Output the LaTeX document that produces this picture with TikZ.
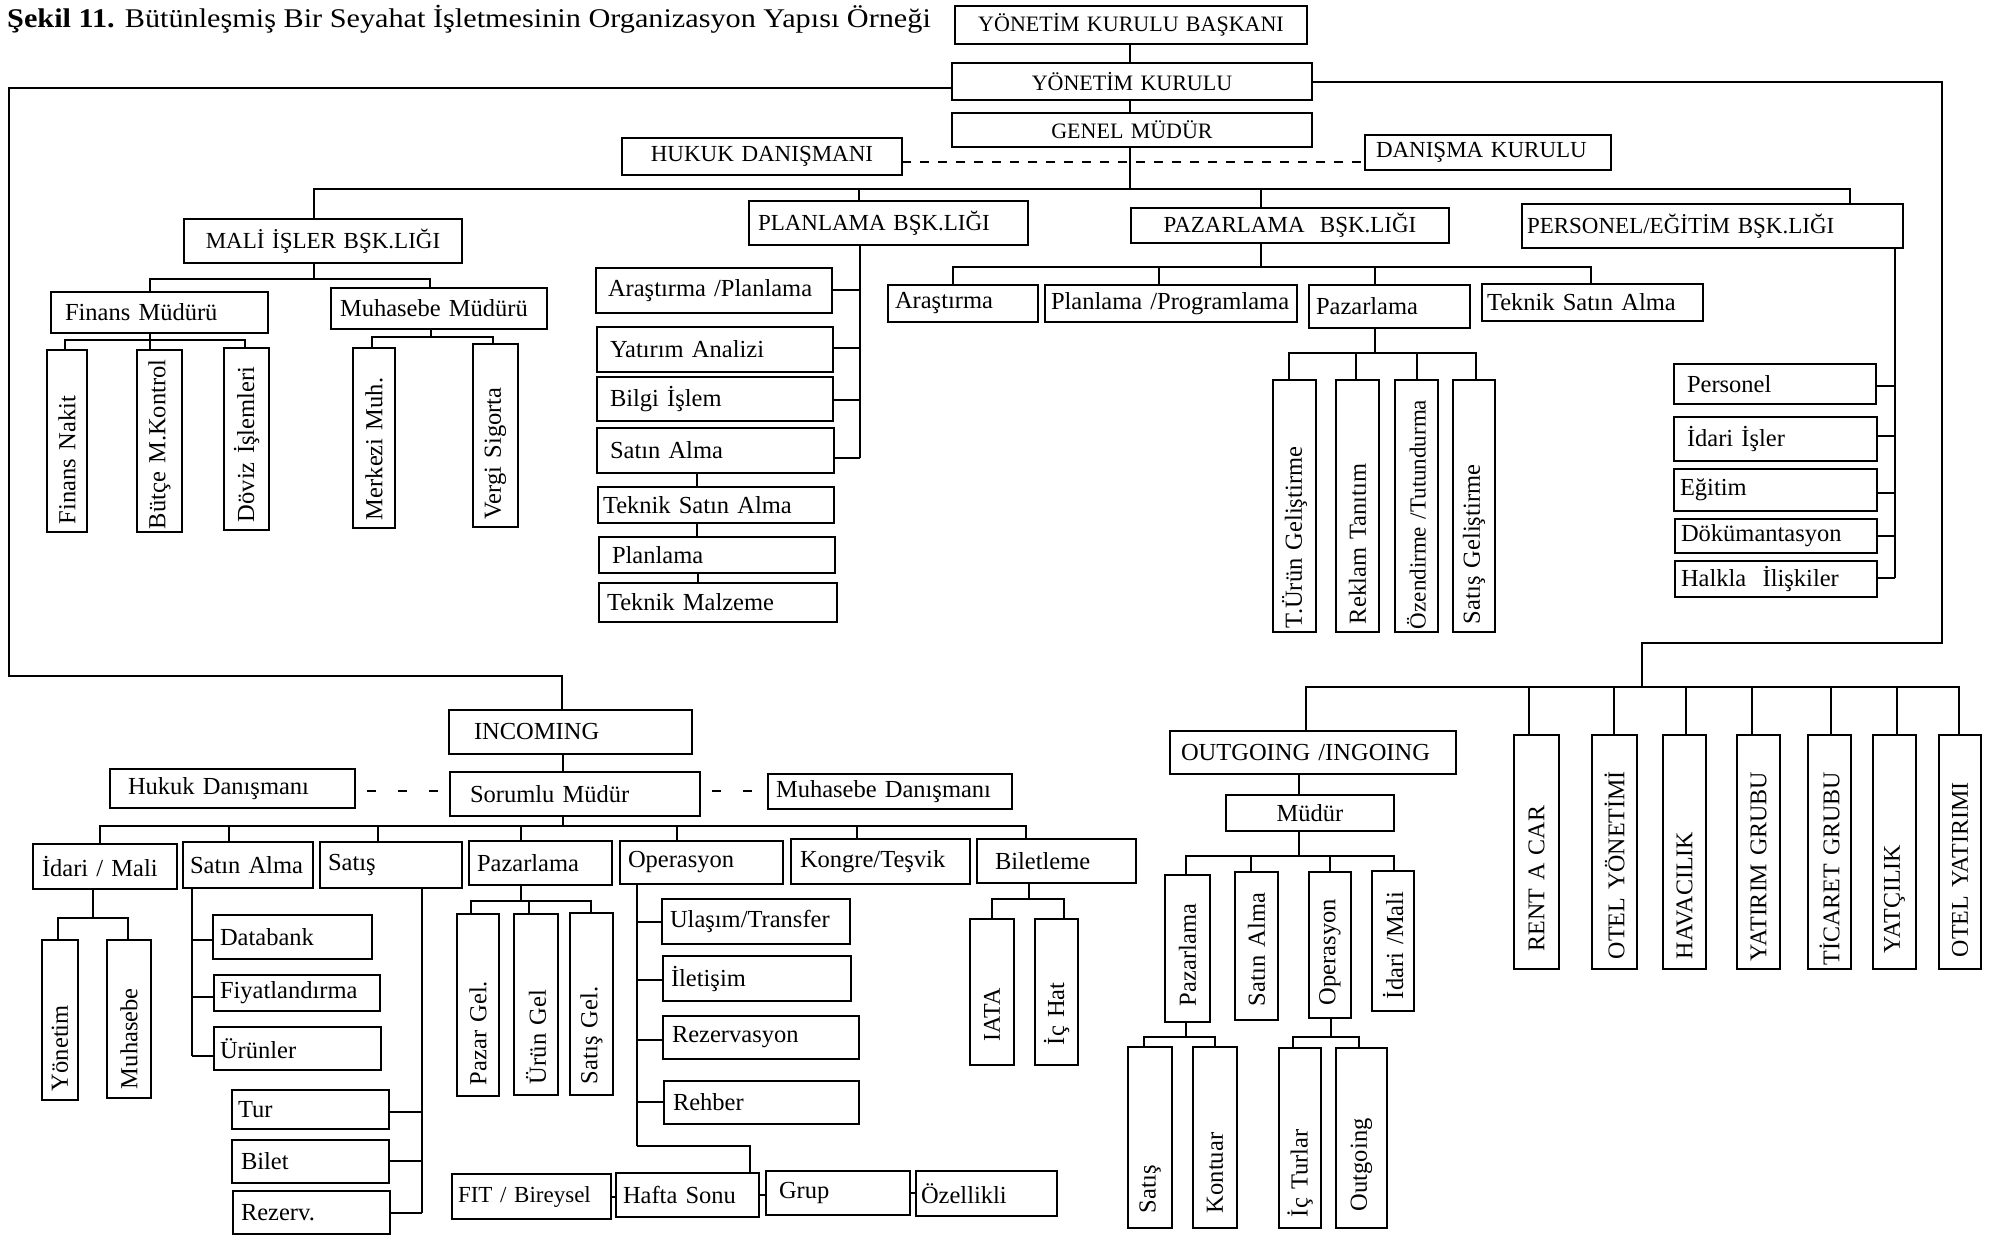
\documentclass[tikz,border=0pt]{standalone}
\usepackage{fontspec}
\setmainfont{Liberation Serif}
\usepackage{graphicx}

\tikzset{
  box/.style={draw, line width=2.2pt, inner ysep=0pt, outer sep=0pt,
              font=\fontsize{24.5}{28}\selectfont, align=left},
  capfont/.style={font=\fontsize{23}{26}\selectfont},
  vcapfont/.style={font=\fontsize{24}{27}\selectfont},
  smallfont/.style={font=\fontsize{22}{25}\selectfont},
  link/.style={line width=2pt},
  dashlink/.style={line width=2pt, dash pattern=on 9pt off 9pt},
  sparse/.style={line width=2pt, dash pattern=on 9pt off 22pt, dash phase=-12pt},
}

% horizontal box: [padding]{style}{name}{x1}{y1}{x2}{y2}{text}
\newcommand\obox[8][8]{%
  \pgfmathsetmacro\bw{#6-#4}\pgfmathsetmacro\bh{#7-#5}\pgfmathsetmacro\tw{#6-#4-2*#1}%
  \node[box,#2,anchor=north west,minimum width=\bw pt,minimum height=\bh pt,
        text width=\tw pt,inner xsep=#1pt] (#3) at (#4,#5) {\mbox{#8}};}
% upright box with text running bottom to top
\newcommand\vbx[8][8]{%
  \pgfmathsetmacro\bw{#6-#4}\pgfmathsetmacro\bh{#7-#5}\pgfmathsetmacro\tw{#7-#5-2*#1}%
  \pgfmathsetmacro\cx{(#4+#6)/2}\pgfmathsetmacro\cy{(#5+#7)/2}%
  \node[box,#2,rotate=90,minimum width=\bh pt,minimum height=\bw pt,
        text width=\tw pt,inner xsep=#1pt] (#3) at (\cx,\cy) {\mbox{#8}};}
% parent drop at x=#2 down to a bus at y=#3, then one drop per child
\newcommand\tconn[4]{%
  \draw[link] (#1 -| #2,0) -- (#2,#3);
  \foreach \a/\xx in {#4} {\draw[link] (#2,#3) -| (\a -| \xx,0);}}
% trunk at x=#2 down to y=#3 with horizontal stubs to the children
\newcommand\side[4]{%
  \draw[link] (#1 -| #2,0) -- (#2,#3);
  \foreach \a/\yy in {#4} {\draw[link] (#2,\yy) -- (\a |- 0,\yy);}}

\begin{document}
\begin{tikzpicture}[x=1pt,y=-1pt]
\fill[white] (0,0) rectangle (2003,1239);
\useasboundingbox (0,0) rectangle (2003,1239);

% heading
\node[anchor=base west, inner sep=0pt, font=\fontsize{27}{30}\selectfont] (title) at (7,28)
  {\scalebox{1.12}[1]{\textbf{Şekil 11.} Bütünleşmiş Bir Seyahat İşletmesinin Organizasyon Yapısı Örneği}};

% top management
\obox{smallfont,align=center}{YKB}{955}{6}{1307}{44}{YÖNETİM KURULU BAŞKANI}
\obox{smallfont,align=center}{YK}{952}{63}{1312}{100}{YÖNETİM KURULU}
\obox{smallfont,align=center}{GM}{952}{113}{1312}{147}{GENEL MÜDÜR}
\obox{capfont,align=center}{HD}{622}{138}{902}{175}{HUKUK DANIŞMANI}
\obox[11]{capfont}{DK}{1365}{135}{1611}{170}{DANIŞMA KURULU}
\draw[link] (YKB.south -| 1130,0) -- (YK.north -| 1130,0);
\draw[link] (YK.south -| 1130,0) -- (GM.north -| 1130,0);
\draw[dashlink] (HD.east |- 0,162) -- (DK.west |- 0,162);

% departments
\obox{capfont,align=center}{MIB}{184}{219}{462}{263}{MALİ İŞLER BŞK.LIĞI}
\obox[9]{capfont}{PLB}{749}{201}{1028}{245}{PLANLAMA BŞK.LIĞI}
\obox{capfont,align=center}{PZB}{1131}{208}{1449}{243}{PAZARLAMA\ \ BŞK.LIĞI}
\obox[5]{capfont}{PEB}{1522}{204}{1903}{248}{PERSONEL/EĞİTİM BŞK.LIĞI}
\tconn{GM.south}{1130}{189}{MIB.north/314, PLB.north/859, PZB.north/1261, PEB.north/1850}

% finance
\obox[14]{}{FinM}{51}{292}{268}{333}{Finans Müdürü}
\obox[9]{}{MuhM}{331}{288}{547}{329}{Muhasebe Müdürü}
\tconn{MIB.south}{314}{279}{FinM.north/150, MuhM.north/430}
\vbx{}{FNk}{47}{350}{87}{532}{Finans Nakit}
\vbx[3]{}{BMK}{137}{350}{182}{532}{Bütçe M.Kontrol}
\vbx{}{DIs}{224}{348}{269}{530}{Döviz İşlemleri}
\vbx{}{MMu}{353}{348}{395}{528}{Merkezi Muh.}
\vbx{}{VSg}{473}{344}{518}{527}{Vergi Sigorta}
\tconn{FinM.south}{150}{340}{FNk.east/65, BMK.east/150, DIs.east/245}
\tconn{MuhM.south}{431}{337}{MMu.east/372, VSg.east/493}

% planning
\obox[12]{}{AP}{596}{268}{832}{313}{Araştırma /Planlama}
\obox[13]{}{YA}{597}{327}{833}{372}{Yatırım Analizi}
\obox[13]{}{BI}{597}{377}{833}{421}{Bilgi İşlem}
\obox[13]{}{SA}{597}{428}{834}{473}{Satın Alma}
\obox[5]{}{TSA}{598}{487}{834}{523}{Teknik Satın Alma}
\obox[13]{}{PL}{599}{537}{835}{573}{Planlama}
\obox[8]{}{TM}{599}{583}{837}{622}{Teknik Malzeme}
\side{PLB.south}{860}{458}{AP.east/290, YA.east/348, BI.east/400, SA.east/458}
\draw[link] (SA.south -| 697,0) -- (TSA.north -| 697,0);
\draw[link] (TSA.south -| 697,0) -- (PL.north -| 697,0);
\draw[link] (PL.south -| 698,0) -- (TM.north -| 698,0);

% marketing
\obox[7]{}{PzA}{888}{285}{1038}{322}{Araştırma}
\obox[6]{}{PzP}{1045}{285}{1297}{322}{Planlama /Programlama}
\obox[7]{}{PzZ}{1309}{285}{1470}{328}{Pazarlama}
\obox[5]{}{PzT}{1482}{284}{1703}{321}{Teknik Satın Alma}
\tconn{PZB.south}{1261}{267}{PzA.north/953, PzP.north/1159, PzZ.north/1375, PzT.north/1591}
\vbx[4]{}{TUG}{1273}{380}{1316}{632}{T.Ürün Geliştirme}
\vbx{}{RTn}{1336}{380}{1379}{632}{Reklam Tanıtım}
\vbx[3]{capfont}{OTu}{1395}{380}{1438}{632}{Özendirme /Tutundurma}
\vbx{}{SGe}{1453}{380}{1495}{632}{Satış Geliştirme}
\tconn{PzZ.south}{1375}{353}{TUG.east/1289, RTn.east/1356, OTu.east/1417, SGe.east/1476}

% personnel
\obox[13]{}{Per}{1674}{364}{1876}{404}{Personel}
\obox[13]{}{Idr}{1674}{417}{1877}{461}{İdari İşler}
\obox[6]{}{Egt}{1674}{469}{1877}{511}{Eğitim}
\obox[6]{}{Dok}{1675}{519}{1877}{553}{Dökümantasyon}
\obox[6]{}{Hal}{1675}{561}{1877}{597}{Halkla\ \ İlişkiler}
\side{PEB.south}{1895}{578}{Per.east/386, Idr.east/436, Egt.east/493, Dok.east/536, Hal.east/578}

% incoming
\obox[25]{}{INC}{449}{710}{692}{754}{INCOMING}
\obox[20]{}{SM}{450}{772}{700}{816}{Sorumlu Müdür}
\obox[18]{}{HDn}{110}{769}{355}{808}{Hukuk Danışmanı}
\obox[8]{}{MD}{768}{774}{1012}{809}{Muhasebe Danışmanı}
\draw[link] (YK.west |- 0,88) -- (9,88) -- (9,676) -- (562,676) -- (INC.north -| 562,0);
\draw[link] (INC.south -| 563,0) -- (SM.north -| 563,0);
\draw[sparse] (HDn.east |- 0,791) -- (SM.west |- 0,791);
\draw[sparse] (SM.east |- 0,791) -- (MD.west |- 0,791);

\obox[9]{}{IM}{33}{844}{177}{889}{İdari / Mali}
\obox[7]{}{ISA}{183}{842}{313}{888}{Satın Alma}
\obox[8]{}{ISt}{320}{842}{462}{888}{Satış}
\obox[8]{}{IPz}{469}{841}{612}{885}{Pazarlama}
\obox[8]{}{IOp}{620}{841}{783}{884}{Operasyon}
\obox[9]{}{IKT}{791}{839}{970}{884}{Kongre/Teşvik}
\obox[18]{}{IBl}{977}{839}{1136}{883}{Biletleme}
\tconn{SM.south}{563}{826}{IM.north/100, ISA.north/229, ISt.north/378, IPz.north/521, IOp.north/677, IKT.north/857, IBl.north/1026}

\vbx[9]{}{Yon}{42}{940}{78}{1100}{Yönetim}
\vbx[9]{}{Muh}{107}{940}{151}{1098}{Muhasebe}
\tconn{IM.south}{93}{918}{Yon.east/58, Muh.east/128}

\obox[7]{}{Dat}{213}{915}{372}{959}{Databank}
\obox[6]{}{Fiy}{214}{975}{380}{1011}{Fiyatlandırma}
\obox[6]{}{Urn}{214}{1027}{381}{1070}{Ürünler}
\side{ISA.south}{192}{1056}{Dat.west/940, Fiy.west/997, Urn.west/1056}

\obox[6]{}{Tur}{232}{1090}{389}{1129}{Tur}
\obox[9]{}{Bil}{232}{1140}{389}{1183}{Bilet}
\obox[8]{}{Rez}{233}{1191}{390}{1234}{Rezerv.}
\side{ISt.south}{422}{1213}{Tur.east/1112, Bil.east/1161, Rez.east/1213}

\vbx[11]{}{PGl}{457}{914}{499}{1096}{Pazar Gel.}
\vbx[11]{}{UGl}{514}{914}{558}{1095}{Ürün Gel}
\vbx[11]{}{SGl}{570}{913}{613}{1095}{Satış Gel.}
\tconn{IPz.south}{521}{901}{PGl.east/471, UGl.east/529, SGl.east/591}

\obox[8]{}{Ula}{662}{899}{850}{944}{Ulaşım/Transfer}
\obox[8]{}{Ilt}{663}{956}{851}{1001}{İletişim}
\obox[9]{}{Rzv}{663}{1016}{859}{1059}{Rezervasyon}
\obox[9]{}{Reh}{664}{1081}{859}{1124}{Rehber}

\obox[6]{capfont}{FIT}{452}{1174}{611}{1219}{FIT / Bireysel}
\obox[7]{}{Haf}{616}{1173}{759}{1217}{Hafta Sonu}
\obox[13]{}{Grp}{766}{1171}{910}{1215}{Grup}
\obox[5]{}{Ozl}{916}{1171}{1057}{1216}{Özellikli}
\side{IOp.south}{637}{1146}{Ula.west/922, Ilt.west/980, Rzv.west/1040, Reh.west/1102}
\draw[link] (637,1146) -- (750,1146) -- (Haf.north -| 750,0);
\draw[link] (FIT.east) -- (Haf.west |- FIT.east);
\draw[link] (Haf.east) -- (Grp.west |- Haf.east);
\draw[link] (Grp.east) -- (Ozl.west |- Grp.east);

\vbx[24]{vcapfont}{IAT}{970}{919}{1014}{1065}{IATA}
\vbx[20]{}{ICH}{1035}{919}{1078}{1065}{İç Hat}
\tconn{IBl.south}{1029}{899}{IAT.east/992, ICH.east/1064}

% outgoing and group companies
\draw[link] (YK.east |- 0,82) -- (1942,82) -- (1942,643) -- (1642,643) -- (1642,687);
\obox[11]{}{OUT}{1170}{731}{1456}{774}{OUTGOING /INGOING}
\obox{align=center}{OM}{1226}{795}{1394}{831}{Müdür}
\draw[link] (OUT.south -| 1299,0) -- (OM.north -| 1299,0);

\vbx[18]{vcapfont}{RAC}{1514}{735}{1559}{969}{RENT A CAR}
\vbx[10]{vcapfont}{OYo}{1592}{735}{1637}{969}{OTEL YÖNETİMİ}
\vbx[10]{vcapfont}{HAV}{1663}{735}{1706}{969}{HAVACILIK}
\vbx[8]{vcapfont}{YGr}{1737}{735}{1780}{969}{YATIRIM GRUBU}
\vbx[4]{vcapfont}{TGr}{1808}{735}{1851}{969}{TİCARET GRUBU}
\vbx[16]{vcapfont}{YAT}{1873}{735}{1916}{969}{YATÇILIK}
\vbx[12]{vcapfont}{OYa}{1939}{735}{1981}{969}{OTEL YATIRIMI}
\foreach \a/\xx in {OUT.north/1306, RAC.east/1529, OYo.east/1614, HAV.east/1686,
                    YGr.east/1752, TGr.east/1831, YAT.east/1897, OYa.east/1959}
  {\draw[link] (1642,687) -| (\a -| \xx,0);}

\vbx[16]{}{OPz}{1165}{875}{1210}{1022}{Pazarlama}
\vbx[14]{}{OSA}{1235}{872}{1278}{1020}{Satın Alma}
\vbx[13]{}{OOp}{1309}{872}{1351}{1018}{Operasyon}
\vbx[12]{}{OIM}{1372}{871}{1414}{1011}{İdari /Mali}
\tconn{OM.south}{1299}{856}{OPz.east/1186, OSA.east/1251, OOp.east/1330, OIM.east/1394}

\vbx[15]{}{OSt}{1128}{1047}{1172}{1228}{Satış}
\vbx[15]{}{OKn}{1193}{1047}{1237}{1228}{Kontuar}
\vbx[11]{}{OIc}{1279}{1048}{1321}{1228}{İç Turlar}
\vbx[17]{}{OOg}{1336}{1048}{1387}{1228}{Outgoing}
\tconn{OPz.west}{1186}{1037}{OSt.east/1144, OKn.east/1215}
\tconn{OOp.west}{1331}{1037}{OIc.east/1293, OOg.east/1359}
\end{tikzpicture}
\end{document}
